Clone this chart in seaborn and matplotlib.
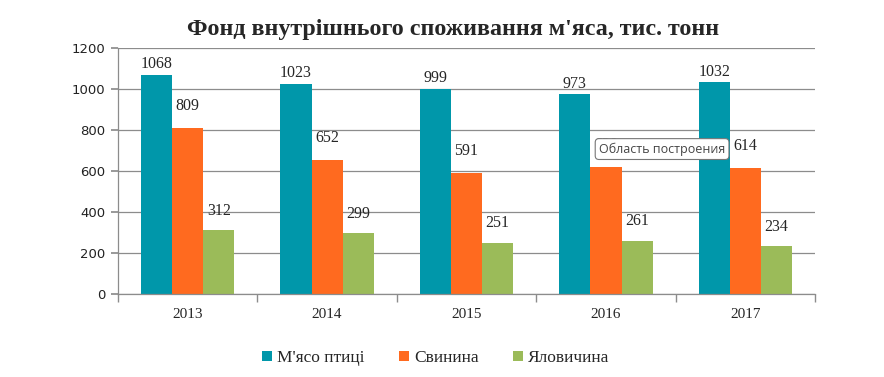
import numpy as np
import pandas as pd
import seaborn as sns
import matplotlib.pyplot as plt
from matplotlib.ticker import FixedLocator

years = ['2013', '2014', '2015', '2016', '2017']
series = ["М'ясо птиці", 'Свинина', 'Яловичина']
poultry = [1068, 1023, 999, 973, 1032]
pork = [809, 652, 591, 620, 614]
beef = [312, 299, 251, 261, 234]
colors = ['#0097AA', '#FF6A1F', '#9BBB59']


def main() -> None:
    df = pd.DataFrame({
        'year': years * 3,
        'kind': [series[0]] * 5 + [series[1]] * 5 + [series[2]] * 5,
        'value': poultry + pork + beef,
    })

    sns.set_theme(style='white')
    plt.rcParams['font.family'] = ['Liberation Serif', 'DejaVu Serif']

    fig = plt.figure(figsize=(8.84, 3.77), dpi=100)
    ax = fig.add_axes([0.1335, 0.22, 0.7885, 0.653])
    sns.barplot(data=df, x='year', y='value', hue='kind', palette=colors,
                width=0.67, gap=0, saturation=1, linewidth=0, ax=ax, legend=True)

    ax.set_ylim(0, 1200)
    ax.set_xlim(-0.5, 4.5)
    ax.set_yticks(range(0, 1201, 200))
    ax.yaxis.grid(True, color='#8c8c8c', linewidth=0.9)
    ax.set_axisbelow(True)
    for s in ['top', 'right']:
        ax.spines[s].set_visible(False)
    for s in ['left', 'bottom']:
        ax.spines[s].set_color('#8c8c8c')
        ax.spines[s].set_linewidth(0.9)
    ax.set_xlabel('')
    ax.set_ylabel('')

    # ticks: y outward, x ticks between categories
    ax.tick_params(axis='y', left=True, length=5, color='#8c8c8c', pad=4)
    for lab in ax.get_yticklabels():
        lab.set_family(['Verdana', 'DejaVu Sans'])
        lab.set_fontsize(9.5)
        lab.set_color('#222222')
    ax.xaxis.set_minor_locator(FixedLocator(np.arange(-0.5, 5, 1)))
    ax.tick_params(axis='x', which='major', bottom=False, labelsize=11, pad=4)
    ax.tick_params(axis='x', which='minor', bottom=True, length=6, color='#8c8c8c')

    paddings = [2, 10, 8]
    for cont, pad in zip(ax.containers, paddings):
        ax.bar_label(cont, fmt='%d', padding=pad, fontsize=11.5)

    ax.set_title("Фонд внутрішнього споживання м'яса, тис. тонн",
                 fontsize=17.3, fontweight='bold', pad=9, x=0.48)

    ax.legend(loc='upper center', bbox_to_anchor=(0.456, -0.165), ncol=3,
              frameon=False, prop={'family': ['Liberation Serif'], 'size': 12.5},
              handlelength=0.55, handleheight=0.55,
              handletextpad=0.3, columnspacing=2.0)

    # Excel hover tooltip visible in the source
    ax.text(0.690, 0.589, 'Область построения', transform=ax.transAxes,
            fontsize=9, family=['Open Sans', 'DejaVu Sans'], color='#444444',
            va='center', ha='left', zorder=10,
            bbox=dict(boxstyle='round,pad=0.3', facecolor='white',
                      edgecolor='#777777', linewidth=0.8))

    plt.savefig('out.png', dpi=100)


if __name__ == "__main__":
    main()
